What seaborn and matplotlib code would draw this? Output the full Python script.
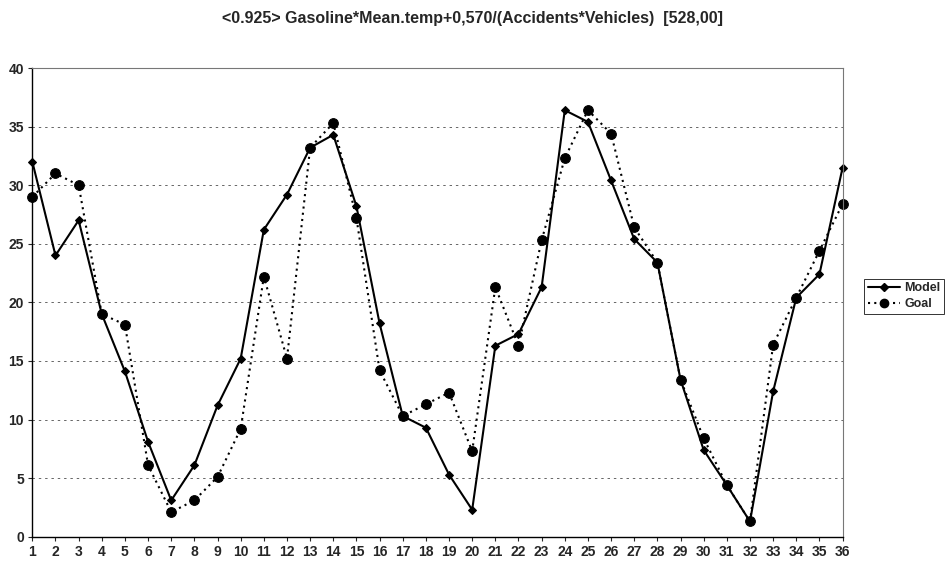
import matplotlib
matplotlib.use("Agg")
import matplotlib.pyplot as plt
import seaborn as sns
import pandas as pd

periods = list(range(1, 37))
model = [32, 24, 27, 19, 14.1, 8.1, 3.1, 6.1, 11.2, 15.2, 26.2, 29.2, 33.2, 34.3,
         28.2, 18.2, 10.3, 9.3, 5.3, 2.3, 16.3, 17.3, 21.3, 36.4, 35.4, 30.4, 25.4,
         23.4, 13.4, 7.4, 4.4, 1.3, 12.4, 20.4, 22.4, 31.5]
goal = [29, 31, 30, 19, 18.1, 6.1, 2.1, 3.1, 5.1, 9.2, 22.2, 15.2, 33.2, 35.3,
        27.2, 14.2, 10.3, 11.3, 12.3, 7.3, 21.3, 16.3, 25.3, 32.3, 36.4, 34.4, 26.4,
        23.4, 13.4, 8.4, 4.4, 1.3, 16.4, 20.4, 24.4, 28.4]
title = "<0.925> Gasoline*Mean.temp+0,570/(Accidents*Vehicles)  [528,00]"

df = pd.DataFrame({"x": periods * 2, "y": model + goal,
                   "series": ["Model"] * 36 + ["Goal"] * 36})

sns.set_style("white")
plt.rcParams["font.family"] = ["Liberation Sans", "DejaVu Sans"]
plt.rcParams["font.weight"] = "bold"

fig = plt.figure(figsize=(9.51, 5.62), dpi=100)
ax = fig.add_axes([0.034, 0.045, 0.852, 0.834])

sns.lineplot(data=df, x="x", y="y", hue="series", style="series",
             palette={"Model": "black", "Goal": "black"},
             dashes={"Model": "", "Goal": (1, 2)},
             markers={"Model": "D", "Goal": "o"},
             ax=ax, legend=False, linewidth=1.5)
for line, ms in zip(ax.lines, [4.5, 7]):
    line.set_markersize(ms)
    line.set_markeredgecolor("black")
    line.set_markerfacecolor("black")
    line.set_clip_on(False)

ax.set_xlim(1, 36)
ax.set_ylim(0, 40)
ax.set_xticks(periods)
ax.set_yticks(range(0, 41, 5))
ax.tick_params(axis="both", labelsize=10, length=3, direction="out", pad=3,
               bottom=True, left=True)
for lab in ax.get_xticklabels() + ax.get_yticklabels():
    lab.set_fontweight("bold")
ax.set_xlabel("")
ax.set_ylabel("")
for yv in range(5, 40, 5):
    ax.axhline(yv, color="#666666", lw=0.7, ls=(0, (2.5, 4)), zorder=0)
for side in ["top", "right"]:
    ax.spines[side].set_color("#777777")
    ax.spines[side].set_linewidth(0.8)
for side in ["left", "bottom"]:
    ax.spines[side].set_color("black")
    ax.spines[side].set_linewidth(1.0)

from matplotlib.lines import Line2D
handles = [Line2D([], [], color="black", lw=1.5, marker="D", ms=4.5),
           Line2D([], [], color="black", lw=1.5, ls=(0, (1, 2)), marker="o", ms=6)]
leg = fig.legend(handles, ["Model", "Goal"], loc="center left",
                 bbox_to_anchor=(0.902, 0.473), frameon=True, fancybox=False,
                 edgecolor="black", fontsize=9, handlelength=2.6,
                 borderpad=0.3, labelspacing=0.3, handletextpad=0.3)
leg.get_frame().set_linewidth(0.7)
for t in leg.get_texts():
    t.set_fontweight("bold")

fig.text(0.497, 0.967, title, ha="center", va="center", fontsize=11.5,
         fontweight="bold")

fig.savefig("out.png", dpi=100)
